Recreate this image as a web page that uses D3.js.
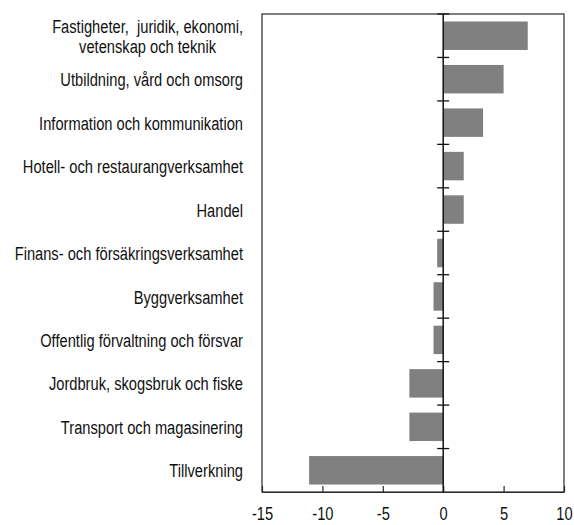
<!DOCTYPE html>
<html>
<head>
<meta charset="utf-8">
<script src="https://cdn.jsdelivr.net/npm/d3@7"></script>
<style>
  html, body { margin: 0; padding: 0; background: #fff; }
  svg { display: block; }
  text { font-family: "Liberation Sans Narrow", "Liberation Sans", Arial, sans-serif; fill: #111; }
</style>
</head>
<body>
<svg id="chart" width="574" height="525"></svg>
<script>
// ---- data ----
const categories = [
  "Fastigheter,  juridik, ekonomi,\nvetenskap och teknik",
  "Utbildning, vård och omsorg",
  "Information och kommunikation",
  "Hotell- och restaurangverksamhet",
  "Handel",
  "Finans- och försäkringsverksamhet",
  "Byggverksamhet",
  "Offentlig förvaltning och försvar",
  "Jordbruk, skogsbruk och fiske",
  "Transport och magasinering",
  "Tillverkning"
];
const values = [7.0, 5.0, 3.3, 1.7, 1.7, -0.5, -0.8, -0.8, -2.8, -2.8, -11.1];
const xTicks = [-15, -10, -5, 0, 5, 10];
const xDomain = [-15, 10];

// ---- layout ----
const plotL = 262, plotR = 564, plotT = 14, plotB = 492;
const labelRight = 243;
const fontSize = 19;
const fontFam = '"Liberation Sans Narrow", "Liberation Sans", Arial, sans-serif';

const svg = d3.select("#chart");

// measure to emulate a narrow face: reference width of one label
const probe = svg.append("text").style("font-size", fontSize + "px").style("font-family", fontFam)
  .text("Information och kommunikation");
const probeW = probe.node().getComputedTextLength();
probe.remove();
const sx = Math.min(1, 204 / probeW);

const x = d3.scaleLinear().domain(xDomain).range([plotL, plotR]);
const y = d3.scaleBand().domain(categories).range([plotT, plotB])
  .paddingInner(0.345).paddingOuter(0.1725);

// bars
svg.append("g").selectAll("rect").data(categories).join("rect")
  .attr("x", (d, i) => x(Math.min(0, values[i])))
  .attr("width", (d, i) => Math.abs(x(values[i]) - x(0)))
  .attr("y", d => y(d))
  .attr("height", y.bandwidth())
  .attr("fill", "#808080");

// frame
svg.append("rect")
  .attr("x", plotL).attr("y", plotT)
  .attr("width", plotR - plotL).attr("height", plotB - plotT)
  .attr("fill", "none").attr("stroke", "#2a2a2a").attr("stroke-width", 1.2);

// bottom axis
const xAxis = d3.axisBottom(x).tickValues(xTicks)
  .tickSizeInner(-6).tickSizeOuter(0).tickPadding(15)
  .tickFormat(d => d < 0 ? "-" + Math.abs(d) : String(d));
const gx = svg.append("g").attr("transform", `translate(0,${plotB})`).call(xAxis);
gx.attr("font-family", null).attr("font-size", null);
gx.select(".domain").attr("stroke", "#2a2a2a").attr("stroke-width", 1.2);
gx.selectAll(".tick line").attr("stroke", "#2a2a2a").attr("stroke-width", 1.2);
gx.selectAll(".tick text")
  .style("font-family", fontFam)
  .style("font-size", fontSize + "px").attr("fill", "#111")
  .attr("transform", `scale(${sx},1)`);

// zero line
svg.append("line")
  .attr("x1", x(0)).attr("x2", x(0)).attr("y1", plotT).attr("y2", plotB)
  .attr("stroke", "#111").attr("stroke-width", 1.5);

// category boundary ticks on the zero line
const gap = (y.step() - y.bandwidth()) / 2;
svg.append("g").selectAll("line").data(categories).join("line")
  .attr("x1", x(0) - 6).attr("x2", x(0) + 6)
  .attr("y1", d => y(d) - gap).attr("y2", d => y(d) - gap)
  .attr("stroke", "#111").attr("stroke-width", 1.3);

// category labels
const lg = svg.append("g").style("font-size", fontSize + "px").style("font-family", fontFam);
categories.forEach(c => {
  const lines = c.split("\n");
  const cy = y(c) + y.bandwidth() / 2;
  const lh = 20;
  const g = lg.append("g").attr("transform", `translate(${labelRight},${cy}) scale(${sx},1)`);
  const t = g.append("text").style("white-space", "pre");
  lines.forEach((ln, j) => {
    t.append("tspan")
      .attr("y", (j - (lines.length - 1) / 2) * lh)
      .attr("dy", "0.37em")
      .text(ln);
  });
  if (lines.length === 1) {
    t.attr("text-anchor", "end").selectAll("tspan").attr("x", 0);
  } else {
    let maxW = 0;
    t.selectAll("tspan").each(function () { maxW = Math.max(maxW, this.getComputedTextLength()); });
    t.attr("text-anchor", "middle").selectAll("tspan").attr("x", -maxW / 2);
  }
});
</script>
</body>
</html>
